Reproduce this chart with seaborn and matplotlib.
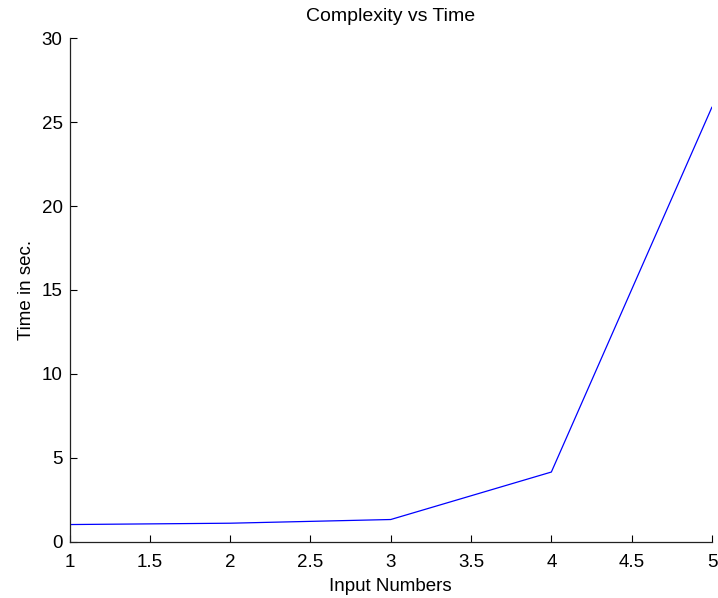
import seaborn as sns
import matplotlib.pyplot as plt
import pandas as pd

input_numbers = [1, 2, 3, 4, 5]
times = [1.02, 1.1, 1.32, 4.15, 25.9]
x_ticks = [1, 1.5, 2, 2.5, 3, 3.5, 4, 4.5, 5]
y_ticks = [0, 5, 10, 15, 20, 25, 30]

sns.set_style("ticks")
plt.rcParams['font.family'] = ['Liberation Sans', 'DejaVu Sans']
plt.rcParams['text.color'] = 'black'
plt.rcParams['axes.labelcolor'] = 'black'

df = pd.DataFrame({'Input Numbers': input_numbers, 'Time in sec.': times})

fig = plt.figure(figsize=(7.18, 5.98), dpi=100)
ax = fig.add_axes([0.0968, 0.0942, 0.8948, 0.8418])
sns.lineplot(x='Input Numbers', y='Time in sec.', data=df, color='#0000ff', linewidth=0.9, ax=ax)

ax.set_xlim(1, 5)
ax.set_ylim(0, 30)
ax.set_xticks(x_ticks)
ax.set_xticklabels(['1', '1.5', '2', '2.5', '3', '3.5', '4', '4.5', '5'])
ax.set_yticks(y_ticks)
sns.despine(ax=ax)
for s in ['left', 'bottom']:
    ax.spines[s].set_linewidth(0.9)
    ax.spines[s].set_color('#222222')
ax.tick_params(direction='in', length=5, width=0.8, labelsize=13.5, colors='black')
ax.tick_params(axis='x', pad=9)
ax.tick_params(axis='y', pad=5)
ax.set_xlabel("Input Numbers", fontsize=13.5, labelpad=5, color='black')
ax.set_ylabel("Time in sec.", fontsize=13.5, labelpad=5, color='black')
ax.set_title("Complexity vs Time", fontsize=14, pad=12.5, color='black')

fig.savefig("out.png", dpi=100)
